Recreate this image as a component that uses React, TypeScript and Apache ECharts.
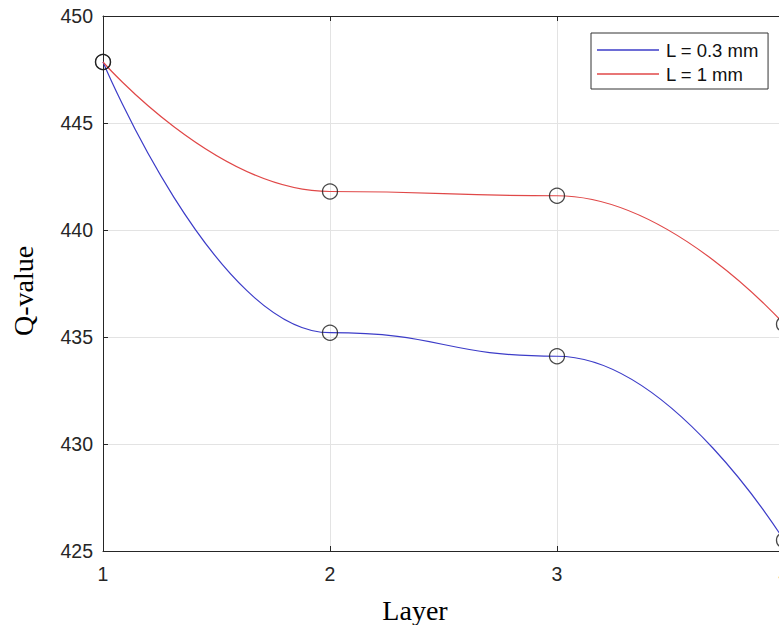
import React, { useEffect, useRef } from "react";
import * as echarts from "echarts";

const layers = [1, 2, 3, 4];
const qThin = [447.85, 435.2, 434.1, 425.5];
const qThick = [447.85, 441.8, 441.6, 435.6];
const seriesNames = ["L = 0.3 mm", "L = 1 mm"];
const xTicks = { min: 1, max: 4, interval: 1 };
const yTicks = { min: 425, max: 450, interval: 5 };

export default function App() {
  const ref = useRef<HTMLDivElement>(null);
  useEffect(() => {
    if (!ref.current) return;
    const chart = echarts.init(ref.current, null, { renderer: "svg" });
    const axisColor = "#262626";
    const tickFont = { color: axisColor, fontFamily: "Liberation Sans, Arial, sans-serif", fontSize: 19.5 };
    const pairs = (ys: number[]) => layers.map((x, i) => [x, ys[i]]);
    chart.setOption({
      animation: false,
      backgroundColor: "#ffffff",
      grid: { left: 103, top: 16, bottom: 74, right: 16, containLabel: false },
      xAxis: [
        {
          type: "value",
          min: xTicks.min,
          max: xTicks.max,
          interval: xTicks.interval,
          axisLine: { show: true, lineStyle: { color: axisColor, width: 1 } },
          axisTick: { show: true, inside: true, length: 5, lineStyle: { color: axisColor } },
          axisLabel: { ...tickFont, margin: 13 },
          splitLine: { show: true, lineStyle: { color: "#e3e3e3", width: 1 } },
        },
        {
          type: "value",
          position: "top",
          min: xTicks.min,
          max: xTicks.max,
          interval: xTicks.interval,
          axisLine: { show: true, onZero: false, lineStyle: { color: axisColor, width: 1 } },
          axisTick: { show: true, inside: true, length: 5, lineStyle: { color: axisColor } },
          axisLabel: { show: false },
          splitLine: { show: false },
        },
      ],
      yAxis: {
        type: "value",
        min: yTicks.min,
        max: yTicks.max,
        interval: yTicks.interval,
        axisLine: { show: true, onZero: false, lineStyle: { color: axisColor, width: 1 } },
        axisTick: { show: true, inside: true, length: 5, lineStyle: { color: axisColor } },
        axisLabel: { ...tickFont, margin: 10 },
        splitLine: { show: true, lineStyle: { color: "#e3e3e3", width: 1 } },
      },
      legend: {
        orient: "vertical",
        left: 591,
        top: 33,
        padding: [7, 9, 5, 6],
        itemGap: 4,
        itemWidth: 62,
        itemHeight: 1.4,
        icon: "rect",
        borderColor: "#333333",
        borderWidth: 1,
        borderRadius: 0,
        backgroundColor: "#ffffff",
        data: seriesNames,
        textStyle: {
          color: "#111",
          fontFamily: "Liberation Sans, Arial, sans-serif",
          fontSize: 18.5,
          lineHeight: 20,
          padding: [0, 0, 0, 2],
        },
      },
      series: [
        {
          name: seriesNames[0],
          type: "line",
          data: pairs(qThin),
          smooth: 0.5,
          smoothMonotone: "x",
          symbol: "none",
          lineStyle: { color: "#3c3cc8", width: 1.2 },
          itemStyle: { color: "#3c3cc8" },
          z: 3,
        },
        {
          name: seriesNames[1],
          type: "line",
          data: pairs(qThick),
          smooth: 0.5,
          smoothMonotone: "x",
          symbol: "none",
          lineStyle: { color: "#e04848", width: 1.2 },
          itemStyle: { color: "#e04848" },
          z: 3,
        },
        {
          type: "scatter",
          data: [...pairs(qThin), ...pairs(qThick)],
          symbol: "circle",
          symbolSize: 15,
          clip: false,
          itemStyle: { color: "rgba(0,0,0,0)", borderColor: "#1a1a1a", borderWidth: 1.3 },
          z: 4,
        },
      ],
      graphic: [
        {
          type: "text",
          x: 415,
          y: 610,
          style: {
            text: "Layer",
            fill: "#000",
            font: '28px "Liberation Serif", "Times New Roman", serif',
            textAlign: "center",
            textVerticalAlign: "middle",
          },
        },
        {
          type: "text",
          x: 23,
          y: 291,
          rotation: Math.PI / 2,
          style: {
            text: "Q-value",
            fill: "#000",
            font: '28px "Liberation Serif", "Times New Roman", serif',
            textAlign: "center",
            textVerticalAlign: "middle",
          },
        },
      ],
    });
    return () => chart.dispose();
  }, []);
  return (
    <div
      style={{ position: "absolute", left: 0, top: 0, width: 779, height: 625, overflow: "hidden" }}
    >
      <div ref={ref} style={{ width: 800, height: 625 }} />
    </div>
  );
}
